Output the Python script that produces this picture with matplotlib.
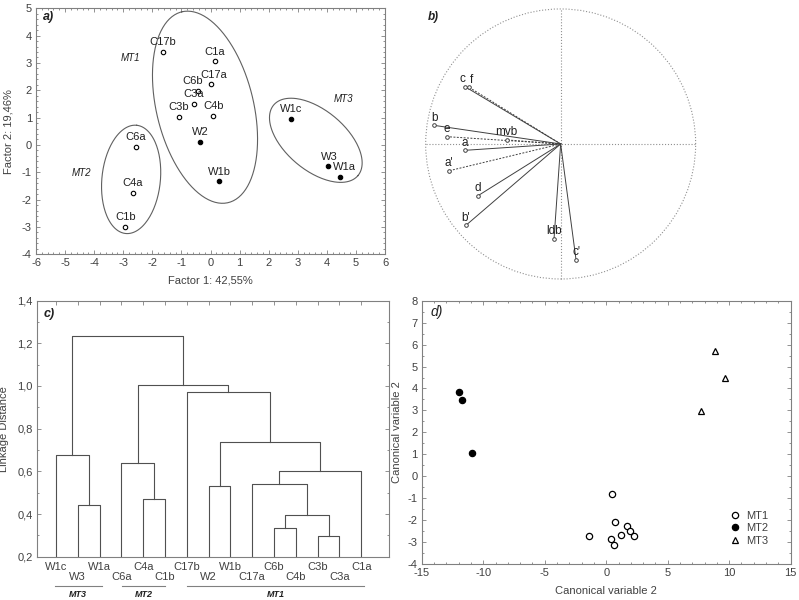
import matplotlib.pyplot as plt
from matplotlib.patches import Circle
from matplotlib.ticker import AutoMinorLocator, FuncFormatter, MultipleLocator
import numpy as np

plt.rcParams['font.family'] = ['Liberation Sans', 'DejaVu Sans']
plt.rcParams['font.size'] = 8
plt.rcParams['axes.unicode_minus'] = False

GREY = '#808080'
TXT = '#404040'

# a) factor scores
samples = ['C17b', 'C1a', 'C17a', 'C6b', 'C3a', 'C3b', 'C4b', 'W2', 'W1b',
           'C6a', 'C4a', 'C1b', 'W1c', 'W3', 'W1a']
f1 = [-1.64, 0.15, 0.03, -0.44, -0.58, -1.09, 0.10, -0.35, 0.29,
      -2.58, -2.68, -2.93, 2.77, 4.03, 4.45]
f2 = [3.41, 3.06, 2.22, 1.99, 1.50, 1.02, 1.07, 0.11, -1.33,
      -0.06, -1.74, -3.01, 0.96, -0.78, -1.18]
groups = ['MT1', 'MT2', 'MT3']
group_lab_x = [-2.76, -4.43, 4.57]
group_lab_y = [3.17, -1.04, 1.67]
# ellipses: centre, semi-axis vectors (data units)
ell_c = [(-0.19, 1.38), (-2.73, -1.26), (3.62, 0.17)]
ell_u = [(-0.80, 3.49), (0.19, 1.98), (1.45, -1.29)]
ell_v = [(1.62, 0.42), (1.00, -0.11), (0.66, 0.84)]

# b) loadings
variables = ['c', 'f', 'b', 'e', 'mvb', 'a', "a'", 'd', "b'", 'ldb', "c'"]
load_x = [-0.709, -0.679, -0.938, -0.842, -0.400, -0.709, -0.825, -0.612, -0.701, -0.049, 0.114]
load_y = [0.425, 0.420, 0.138, 0.054, 0.030, -0.047, -0.198, -0.383, -0.602, -0.701, -0.859]
dashed = [False, True, False, True, True, False, True, False, False, False, False]

# c) dendrogram
leaves = ['W1c', 'W3', 'W1a', 'C6a', 'C4a', 'C1b', 'C17b', 'W2', 'W1b',
          'C17a', 'C6b', 'C4b', 'C3b', 'C3a', 'C1a']
# (left node, right node, linkage distance); new nodes numbered from 15
merges = [(1, 2, 0.441), (0, 15, 0.677), (4, 5, 0.469), (3, 17, 0.638),
          (12, 13, 0.296), (10, 11, 0.334), (20, 19, 0.397), (9, 21, 0.539),
          (22, 14, 0.600), (7, 8, 0.533), (24, 23, 0.736), (6, 25, 0.971),
          (18, 26, 1.003), (16, 27, 1.235)]
group_span = [(-0.05, 2.09), (3.04, 5.0), (6.0, 14.14)]
group_names = ['MT3', 'MT2', 'MT1']

# d) canonical variables
mt1_x = [0.45, 0.72, 1.67, 1.91, 1.23, 2.29, -1.40, 0.37, 0.64]
mt1_y = [-0.83, -2.10, -2.27, -2.48, -2.67, -2.74, -2.71, -2.88, -3.12]
mt2_x = [-11.94, -11.72, -10.94]
mt2_y = [3.86, 3.46, 1.06]
mt3_x = [8.85, 9.66, 7.68]
mt3_y = [5.72, 4.49, 2.97]


def comma(v, pos):
    return ('%.1f' % v).replace('.', ',')


def style(ax):
    for s in ax.spines.values():
        s.set_color(GREY)
        s.set_linewidth(0.8)
    ax.tick_params(which='both', direction='in', top=True, right=True,
                   color=GREY, labelcolor=TXT, labelsize=8, width=0.6)
    ax.tick_params(which='major', length=3, pad=3)
    ax.tick_params(which='minor', length=1.5)


fig = plt.figure(figsize=(7.99, 6), dpi=100)

# ---- a)
ax = fig.add_axes([0.0451, 0.5762, 0.4368, 0.41])
style(ax)
t = np.linspace(0, 2 * np.pi, 200)
for c, u, v in zip(ell_c, ell_u, ell_v):
    ax.plot(c[0] + u[0] * np.cos(t) + v[0] * np.sin(t),
            c[1] + u[1] * np.cos(t) + v[1] * np.sin(t), color='#606060', lw=0.8)
for name, x, y in zip(samples, f1, f2):
    w = name.startswith('W')
    ax.plot(x, y, 'o', ms=3.2, mec='black', mew=0.8, mfc='black' if w else 'white')
    dx = {'W1a': 3.5, 'W3': 1.5, 'C6b': -3.5, 'C17a': 2}.get(name, 0)
    ax.annotate(name, (x, y), xytext=(dx, 7), textcoords='offset points',
                ha='center', va='center', fontsize=8, color='#202020')
for g, x, y in zip(groups, group_lab_x, group_lab_y):
    ax.text(x, y, g, style='italic', fontsize=7, ha='center', va='center', color='#202020')
ax.set_xlim(-6, 6)
ax.set_ylim(-4, 5)
ax.xaxis.set_major_locator(MultipleLocator(1))
ax.yaxis.set_major_locator(MultipleLocator(1))
ax.xaxis.set_minor_locator(AutoMinorLocator(5))
ax.yaxis.set_minor_locator(AutoMinorLocator(5))
ax.set_xlabel('Factor 1: 42,55%', color=TXT, labelpad=5)
ax.set_ylabel('Factor 2: 19,46%', color=TXT, labelpad=6)
ax.text(0.02, 0.963, 'a)', transform=ax.transAxes, style='italic', weight='bold',
        fontsize=9, va='center', color='#202020')

# ---- b)
axb = fig.add_axes([0.5265, 0.5267, 0.3504, 0.4667])
axb.set_xlim(-1.037, 1.037)
axb.set_ylim(-1.037, 1.037)
axb.axis('off')
axb.add_patch(Circle((0, 0), 1, fill=False, ls=':', color='#909090', lw=0.8))
axb.plot([-1, 1], [0, 0], ls=':', color='#909090', lw=0.8)
axb.plot([0, 0], [-1, 1], ls=':', color='#909090', lw=0.8)
for name, x, y, d in zip(variables, load_x, load_y, dashed):
    axb.plot([0, x], [0, y], color='#404040', lw=0.7, ls='--' if d else '-',
             dashes=(2, 1.5) if d else (None, None))
    axb.plot(x, y, 'o', ms=2.6, mfc='white', mec='#404040', mew=0.7)
    dx = {'c': -1.5, 'f': 2}.get(name, 0)
    axb.annotate(name, (x, y), xytext=(dx, 5.5), textcoords='offset points',
                 ha='center', va='center', fontsize=8.5, color='#202020')
axb.text(-0.946, 0.94, 'b)', style='italic', weight='bold', fontsize=8.5,
         va='center', ha='center', color='#202020')

# ---- c)
axc = fig.add_axes([0.0459, 0.0722, 0.4406, 0.4267])
style(axc)
pos = {i: float(i) for i in range(len(leaves))}
hgt = {i: 0.0 for i in range(len(leaves))}
for k, (l, r, h) in enumerate(merges):
    axc.plot([pos[l], pos[l], pos[r], pos[r]], [hgt[l], h, h, hgt[r]],
             color='#505050', lw=0.8)
    pos[len(leaves) + k] = (pos[l] + pos[r]) / 2
    hgt[len(leaves) + k] = h
axc.set_xlim(-0.887, 15.26)
axc.set_ylim(0.2, 1.4)
axc.set_xticks(range(len(leaves)))
axc.set_xticklabels([])
axc.yaxis.set_major_locator(MultipleLocator(0.2))
axc.yaxis.set_minor_locator(AutoMinorLocator(2))
axc.yaxis.set_major_formatter(FuncFormatter(comma))
tr = axc.get_xaxis_transform()
for i, name in enumerate(leaves):
    yy = -0.039 if i % 2 == 0 else -0.081
    axc.text(i, yy, name, transform=tr, ha='center', va='center', fontsize=8, color=TXT)
for (x0, x1), g in zip(group_span, group_names):
    axc.plot([x0, x1], [-0.115, -0.115], transform=tr, clip_on=False, color='#808080', lw=0.8)
    axc.text((x0 + x1) / 2, -0.147, g, transform=tr, ha='center', va='center',
             fontsize=6.5, style='italic', weight='bold', color='#202020')
axc.set_ylabel('Linkage Distance', color=TXT, labelpad=6)
axc.text(0.02, 0.948, 'c)', transform=axc.transAxes, style='italic', weight='bold',
         fontsize=9, va='center', color='#202020')

# ---- d)
axd = fig.add_axes([0.5278, 0.06, 0.4618, 0.4388])
style(axd)
axd.plot(mt1_x, mt1_y, 'o', ms=4.5, mfc='white', mec='black', mew=0.9, ls='none', label='MT1')
axd.plot(mt2_x, mt2_y, 'o', ms=4.5, mfc='black', mec='black', mew=0.9, ls='none', label='MT2')
axd.plot(mt3_x, mt3_y, '^', ms=4, mfc='white', mec='black', mew=0.9, ls='none', label='MT3')
axd.set_xlim(-15, 15)
axd.set_ylim(-4, 8)
axd.xaxis.set_major_locator(MultipleLocator(5))
axd.yaxis.set_major_locator(MultipleLocator(1))
axd.xaxis.set_minor_locator(AutoMinorLocator(5))
axd.yaxis.set_minor_locator(AutoMinorLocator(2))
axd.set_xlabel('Canonical variable 2', color=TXT, labelpad=6)
axd.set_ylabel('Canonical variable 2', color=TXT, labelpad=4)
leg = axd.legend(loc='lower right', bbox_to_anchor=(0.965, 0.03), frameon=False,
                 fontsize=8, handletextpad=0.4, labelspacing=0.25, handlelength=1.2)
for txt in leg.get_texts():
    txt.set_color(TXT)
axd.text(0.025, 0.958, 'd)', transform=axd.transAxes, style='italic',
         fontsize=10, va='center', color='#202020')

fig.savefig('out.png', dpi=100)
